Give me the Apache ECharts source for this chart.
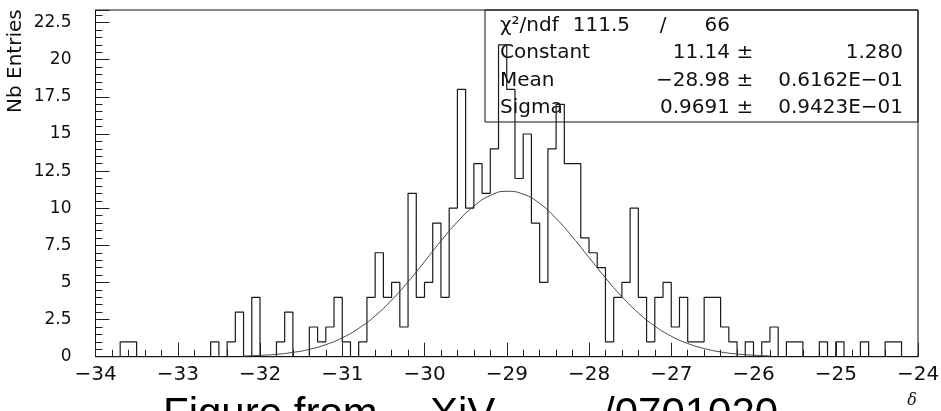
<!DOCTYPE html>
<html>
<head>
<meta charset="utf-8">
<script src="https://cdn.jsdelivr.net/npm/echarts@6/dist/echarts.min.js"></script>
<style>
html, body { margin: 0; padding: 0; background: #fff; }
#histo { width: 941px; height: 411px; }
</style>
</head>
<body>
<div id="histo"></div>
<script>
// histogram: 100 bins of 0.1 from -34 to -24
var binStart = -34;
var binWidth = 0.1;
var counts = [
    0, 0, 0, 1, 1, 0, 0, 0, 0, 0,
    0, 0, 0, 0, 1, 0, 1, 3, 0, 4,
    0, 0, 1, 3, 0, 0, 2, 1, 2, 4,
    1, 0, 1, 4, 7, 4, 5, 2, 11, 4,
    5, 9, 4, 10, 18, 10, 13, 11, 14, 21,
    18, 12, 15, 9, 5, 14, 17, 13, 13, 8,
    7, 6, 1, 4, 5, 10, 4, 1, 4, 5,
    2, 4, 1, 1, 4, 4, 2, 1, 0, 1,
    0, 1, 2, 0, 1, 1, 0, 0, 1, 0,
    1, 0, 0, 1, 0, 0, 1, 1, 0, 0
];

// gaussian fit curve
var fitX = [-32.2, -32.0, -31.8, -31.6, -31.4, -31.2, -31.0, -30.8, -30.6, -30.4, -30.2,
    -30.0, -29.8, -29.6, -29.4, -29.2, -29.0, -28.8, -28.6, -28.4, -28.2, -28.0,
    -27.8, -27.6, -27.4, -27.2, -27.0, -26.8, -26.6, -26.4, -26.2, -26.0, -25.8];
var fitY = [0.05, 0.09, 0.16, 0.29, 0.49, 0.81, 1.27, 1.91, 2.75, 3.81, 5.04,
    6.40, 7.79, 9.08, 10.14, 10.86, 11.14, 10.95, 10.32, 9.31, 8.06, 6.68,
    5.31, 4.04, 2.95, 2.06, 1.38, 0.89, 0.55, 0.32, 0.18, 0.10, 0.05];

// stats box
var statNames = ['Constant', 'Mean', 'Sigma'];
var statValues = ['11.14', '\u221228.98', '0.9691'];
var statErrors = ['1.280', '0.6162E\u221201', '0.9423E\u221201'];
var chi2 = '111.5';
var ndf = '66';

var chartDom = document.getElementById('histo');
var myChart = echarts.init(chartDom);
var option;

var histData = counts.map(function (c, i) {
    return [binStart + i * binWidth, c];
});
histData.push([binStart + counts.length * binWidth, counts[counts.length - 1]]);

var fitData = fitX.map(function (x, i) { return [x, fitY[i]]; });

var boxFont = '20px "DejaVu Sans"';
var graphics = [
    {type: 'rect', shape: {x: 485, y: 10, width: 433, height: 112},
        style: {fill: 'none', stroke: '#111', lineWidth: 1}},
    {type: 'text', x: 500, y: 26, style: {text: '\u03c7\u00b2/ndf', font: boxFont, fill: '#111', verticalAlign: 'middle'}},
    {type: 'text', x: 630, y: 26, style: {text: chi2, font: boxFont, fill: '#111', align: 'right', verticalAlign: 'middle'}},
    {type: 'text', x: 663, y: 26, style: {text: '/', font: boxFont, fill: '#111', align: 'center', verticalAlign: 'middle'}},
    {type: 'text', x: 730, y: 26, style: {text: ndf, font: boxFont, fill: '#111', align: 'right', verticalAlign: 'middle'}}
];
statNames.forEach(function (name, i) {
    var y = 53 + i * 27.5;
    graphics.push({type: 'text', x: 500, y: y, style: {text: name, font: boxFont, fill: '#111', verticalAlign: 'middle'}});
    graphics.push({type: 'text', x: 730, y: y, style: {text: statValues[i], font: boxFont, fill: '#111', align: 'right', verticalAlign: 'middle'}});
    graphics.push({type: 'text', x: 745, y: y, style: {text: '\u00b1', font: boxFont, fill: '#111', align: 'center', verticalAlign: 'middle'}});
    graphics.push({type: 'text', x: 903, y: y, style: {text: statErrors[i], font: boxFont, fill: '#111', align: 'right', verticalAlign: 'middle'}});
});
// axis titles
graphics.push({type: 'text', x: 16, y: 113, rotation: Math.PI / 2,
    style: {text: 'Nb Entries', font: '20px "DejaVu Sans"', fill: '#111', align: 'left', verticalAlign: 'middle'}});
graphics.push({type: 'text', x: 912, y: 401,
    style: {text: '\u03b4', font: 'italic 16px "DejaVu Serif"', fill: '#111', align: 'center', verticalAlign: 'middle'}});
// caption cut off at the bottom edge
var capFont = '42px "Liberation Sans"';
graphics.push({type: 'text', x: 163, y: 415, style: {text: 'Figure from', font: capFont, fill: '#000', verticalAlign: 'middle'}});
graphics.push({type: 'text', x: 430, y: 415, style: {text: 'XiV', font: capFont, fill: '#000', verticalAlign: 'middle'}});
graphics.push({type: 'text', x: 603, y: 415, style: {text: '/0701020', font: capFont, fill: '#000', verticalAlign: 'middle'}});

option = {
    animation: false,
    backgroundColor: '#fff',
    grid: {
        left: 95.5,
        right: 23,
        top: 10,
        bottom: 54.3,
        show: true,
        borderColor: '#111',
        borderWidth: 1,
        outerBoundsMode: 'none'
    },
    xAxis: {
        type: 'value',
        min: -34,
        max: -24,
        interval: 1,
        axisLine: {onZero: false, lineStyle: {color: '#111', width: 1}},
        axisTick: {inside: true, length: 14, lineStyle: {color: '#222'}},
        minorTick: {show: true, splitNumber: 5, length: 7, lineStyle: {color: '#222'}},
        splitLine: {show: false},
        axisLabel: {
            margin: 8,
            fontSize: 20,
            fontFamily: 'DejaVu Sans',
            color: '#111',
            formatter: function (v) { return v < 0 ? '\u2212' + Math.abs(v) : String(v); }
        }
    },
    yAxis: {
        type: 'value',
        min: 0,
        max: 23.35,
        interval: 2.5,
        axisLine: {show: true, lineStyle: {color: '#111', width: 1}},
        axisTick: {inside: true, length: 14, lineStyle: {color: '#222'}},
        minorTick: {show: true, splitNumber: 5, length: 7, lineStyle: {color: '#222'}},
        splitLine: {show: false},
        axisLabel: {
            margin: 24,
            fontSize: 17,
            fontFamily: 'DejaVu Sans',
            color: '#111',
            showMaxLabel: false
        }
    },
    series: [
        {
            name: 'entries',
            type: 'line',
            step: 'end',
            data: histData,
            symbol: 'none',
            silent: true,
            lineStyle: {color: '#1a1a1a', width: 1.2}
        },
        {
            name: 'fit',
            type: 'line',
            smooth: true,
            data: fitData,
            symbol: 'none',
            silent: true,
            lineStyle: {color: '#444', width: 1}
        }
    ],
    graphic: graphics
};

option && myChart.setOption(option);
</script>
</body>
</html>
